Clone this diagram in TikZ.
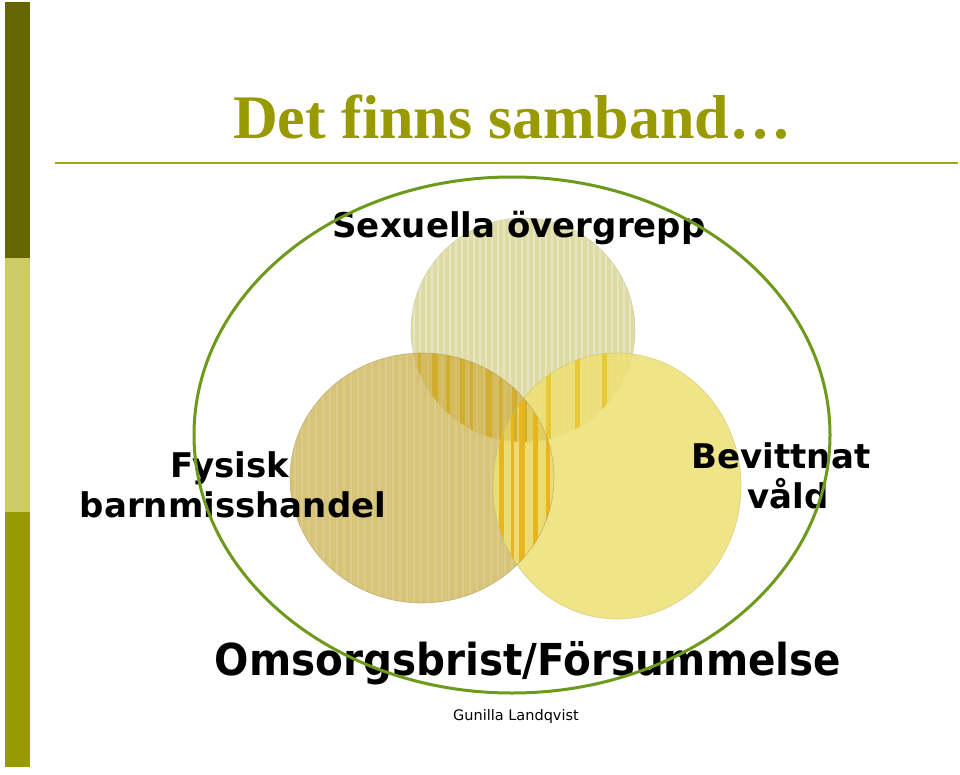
\documentclass[tikz,border=0pt]{standalone}
\usepackage{fontspec}
\usepackage{graphicx}
\setmainfont{Liberation Serif}
\newfontfamily\dvs{DejaVu Sans}
\definecolor{bardark}{HTML}{666600}
\definecolor{barlight}{HTML}{CCCC66}
\definecolor{barmid}{HTML}{999900}
\definecolor{titleol}{HTML}{999900}
\definecolor{rulecol}{HTML}{A3A31F}
\definecolor{ellgreen}{HTML}{6E9A1C}
\definecolor{topc}{HTML}{DEDBA6}
\definecolor{leftc}{HTML}{D4BF6E}
\definecolor{rightc}{HTML}{EEE075}
\definecolor{stripeTL}{HTML}{D2AE30}
\definecolor{stripeLR}{HTML}{E8B51C}
\definecolor{stripeTR}{HTML}{E6C935}
\tikzset{
  lbl/.style={font=\dvs\bfseries\fontsize{34bp}{36bp}\selectfont, anchor=base, inner sep=0pt},
  lblsmall/.style={font=\dvs\fontsize{14.5bp}{17bp}\selectfont, anchor=base, inner sep=0pt},
}
\begin{document}
\begin{tikzpicture}[x=1bp,y=-1bp]
\useasboundingbox (0,0) rectangle (960,775);
\fill[white] (0,0) rectangle (960,775);
% left bar
\fill[bardark] (5,2) rectangle (30,258);
\fill[barlight] (5,258) rectangle (30,512);
\fill[barmid] (5,512) rectangle (30,767);
% title
\node[font=\bfseries\fontsize{62bp}{64bp}\selectfont, text=titleol, anchor=base west, inner sep=0pt] (title) at (233,138) {Det finns samband…};
\draw[rulecol, line width=2.5bp] (55,163) -- (958,163);
% circles
\def\topcirc{(523,330) ellipse [x radius=112, y radius=112]}
\def\leftcirc{(422,478) ellipse [x radius=132, y radius=125]}
\def\rightcirc{(617,486) ellipse [x radius=124, y radius=133]}
\fill[topc] \topcirc;
\begin{scope}
  \clip \topcirc;
  \foreach \x in {413,419,...,640} \fill[white,opacity=0.28] (\x,210) rectangle ++(1.5,240);
\end{scope}
\draw[topc!85!black, line width=0.6bp, opacity=0.5] \topcirc;
\fill[leftc, opacity=0.92] \leftcirc;
\begin{scope}
  \clip \leftcirc;
  \foreach \x in {294,301,...,560} \fill[white,opacity=0.14] (\x,350) rectangle ++(2,260);
\end{scope}
\fill[rightc, opacity=0.85] \rightcirc;
% overlap stripes
\begin{scope}
  \clip \topcirc; \clip \leftcirc;
  \fill[stripeTL, opacity=0.3] (400,340) rectangle (560,450);
  \foreach \x/\w in {418/3,432/6,446/4,460/5,470/3,486/6,499/3,512/5,524/3}
    \fill[stripeTL] (\x,340) rectangle ++(\w,120);
\end{scope}
\begin{scope}
  \clip \rightcirc; \clip \leftcirc;
  \foreach \x/\w in {499/5,511/3,519/6,533/5,546/4}
    \fill[stripeLR] (\x,340) rectangle ++(\w,280);
\end{scope}
\begin{scope}
  \clip \topcirc; \clip \rightcirc;
  \foreach \x/\w in {546/5,575/5,602/5}
    \fill[stripeTR] (\x,340) rectangle ++(\w,120);
\end{scope}
\draw[leftc!80!black, line width=0.6bp, opacity=0.6] \leftcirc;
\draw[rightc!85!black, line width=0.6bp, opacity=0.6] \rightcirc;
% labels
\node[lbl] (sex) at (519,237) {Sexuella övergrepp};
\node[lbl] (fys) at (230,477) {Fysisk};
\node[lbl] (barn) at (233,517) {barnmisshandel};
\node[lbl] (bev) at (781,468) {Bevittnat};
\node[lbl] (vald) at (788,508) {våld};
\node[lbl, font=\dvs\bfseries\fontsize{44bp}{46bp}\selectfont] (oms) at (528,675) {\scalebox{0.92}[1]{Omsorgsbrist/Försummelse}};
\node[lblsmall] (auth) at (516,720) {Gunilla Landqvist};
% enclosing ellipse
\draw[ellgreen, line width=3bp] (512,435) ellipse [x radius=318, y radius=258];
\end{tikzpicture}
\end{document}
